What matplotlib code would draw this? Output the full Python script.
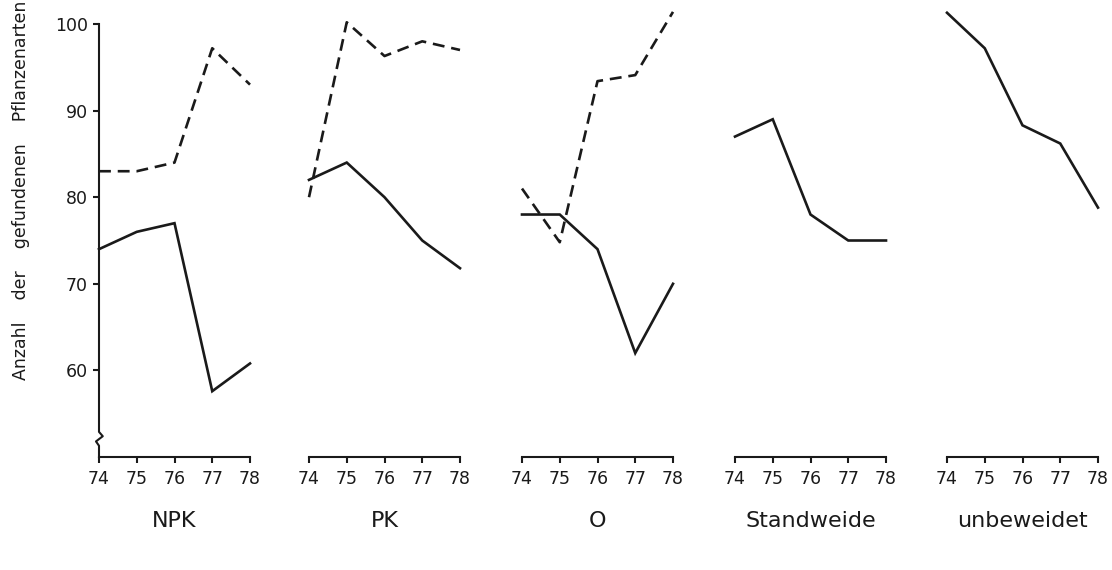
import matplotlib
matplotlib.use("Agg")
import matplotlib.pyplot as plt

# years on the x axis of every panel
years = [74, 75, 76, 77, 78]
panel_names = ["NPK", "PK", "O", "Standweide", "unbeweidet"]

# solid line per panel
solid_npk = [74, 76, 77, 57.6, 60.8]
solid_pk = [82, 84, 80, 75, 71.8]
solid_o = [78, 78, 74, 62, 70]
solid_standweide = [87, 89, 78, 75, 75]
solid_unbeweidet = [101.3, 97.2, 88.3, 86.2, 78.8]

# dashed line per panel (only the fertilised plots)
dashed_npk = [83, 83, 84, 97.2, 93]
dashed_pk = [80, 100.2, 96.3, 98, 97]
dashed_o = [81, 74.8, 93.4, 94.1, 101.4]

solid_series = [solid_npk, solid_pk, solid_o, solid_standweide, solid_unbeweidet]
dashed_series = [dashed_npk, dashed_pk, dashed_o, None, None]

y_ticks = [60, 70, 80, 90, 100]
y_label = "Anzahl    der    gefundenen    Pflanzenarten"

W, H = 1112, 570
fig = plt.figure(figsize=(W / 100, H / 100), dpi=100)
fig.patch.set_facecolor("white")

panel_left_px = [99, 309, 522, 735, 947]
panel_width_px = 151
axis_bottom_px = 457
axis_top_px = 24

ink = "#1a1a1a"
tick_font = dict(family="DejaVu Sans", size=12.5)

for i, name in enumerate(panel_names):
    left = panel_left_px[i] / W
    bottom = (H - axis_bottom_px) / H
    height = (axis_bottom_px - axis_top_px) / H
    ax = fig.add_axes([left, bottom, panel_width_px / W, height])
    ax.set_xlim(74, 78)
    ax.set_ylim(50, 100)
    ax.patch.set_alpha(0)

    for side in ("top", "right", "left"):
        ax.spines[side].set_visible(False)
    ax.spines["bottom"].set_bounds(74, 78)
    ax.spines["bottom"].set_linewidth(1.5)
    ax.spines["bottom"].set_color(ink)

    ax.set_xticks(years)
    ax.set_xticklabels([str(y) for y in years], fontdict=tick_font, color=ink)
    ax.tick_params(axis="x", direction="out", length=4, width=1.5, pad=5, color=ink)

    ax.plot(years, solid_series[i], color=ink, lw=1.9, clip_on=False,
            solid_joinstyle="miter")
    if dashed_series[i] is not None:
        ax.plot(years, dashed_series[i], color=ink, lw=1.9, clip_on=False,
                dashes=(4.5, 2.6))

    if i == 0:
        # y axis drawn by hand so it can carry the break mark near the bottom
        ax.plot([74, 74, 74.1, 73.92, 74, 74],
                [100, 52.9, 52.4, 51.8, 51.3, 50],
                color=ink, lw=1.5, clip_on=False)
        ax.set_yticks(y_ticks)
        ax.set_yticklabels([str(v) for v in y_ticks], fontdict=tick_font, color=ink)
        ax.tick_params(axis="y", direction="out", length=4, width=1.5, pad=4, color=ink)
    else:
        ax.set_yticks([])

    ax.text(76, -0.148, name, transform=ax.get_xaxis_transform(),
            ha="center", va="center", fontsize=16, color=ink,
            family="DejaVu Sans")

fig.text(21 / W, 1 - 190 / H, y_label, rotation=90, ha="center", va="center",
         fontsize=12.5, color=ink, family="DejaVu Sans")

fig.savefig("out.png", dpi=100, facecolor="white")
